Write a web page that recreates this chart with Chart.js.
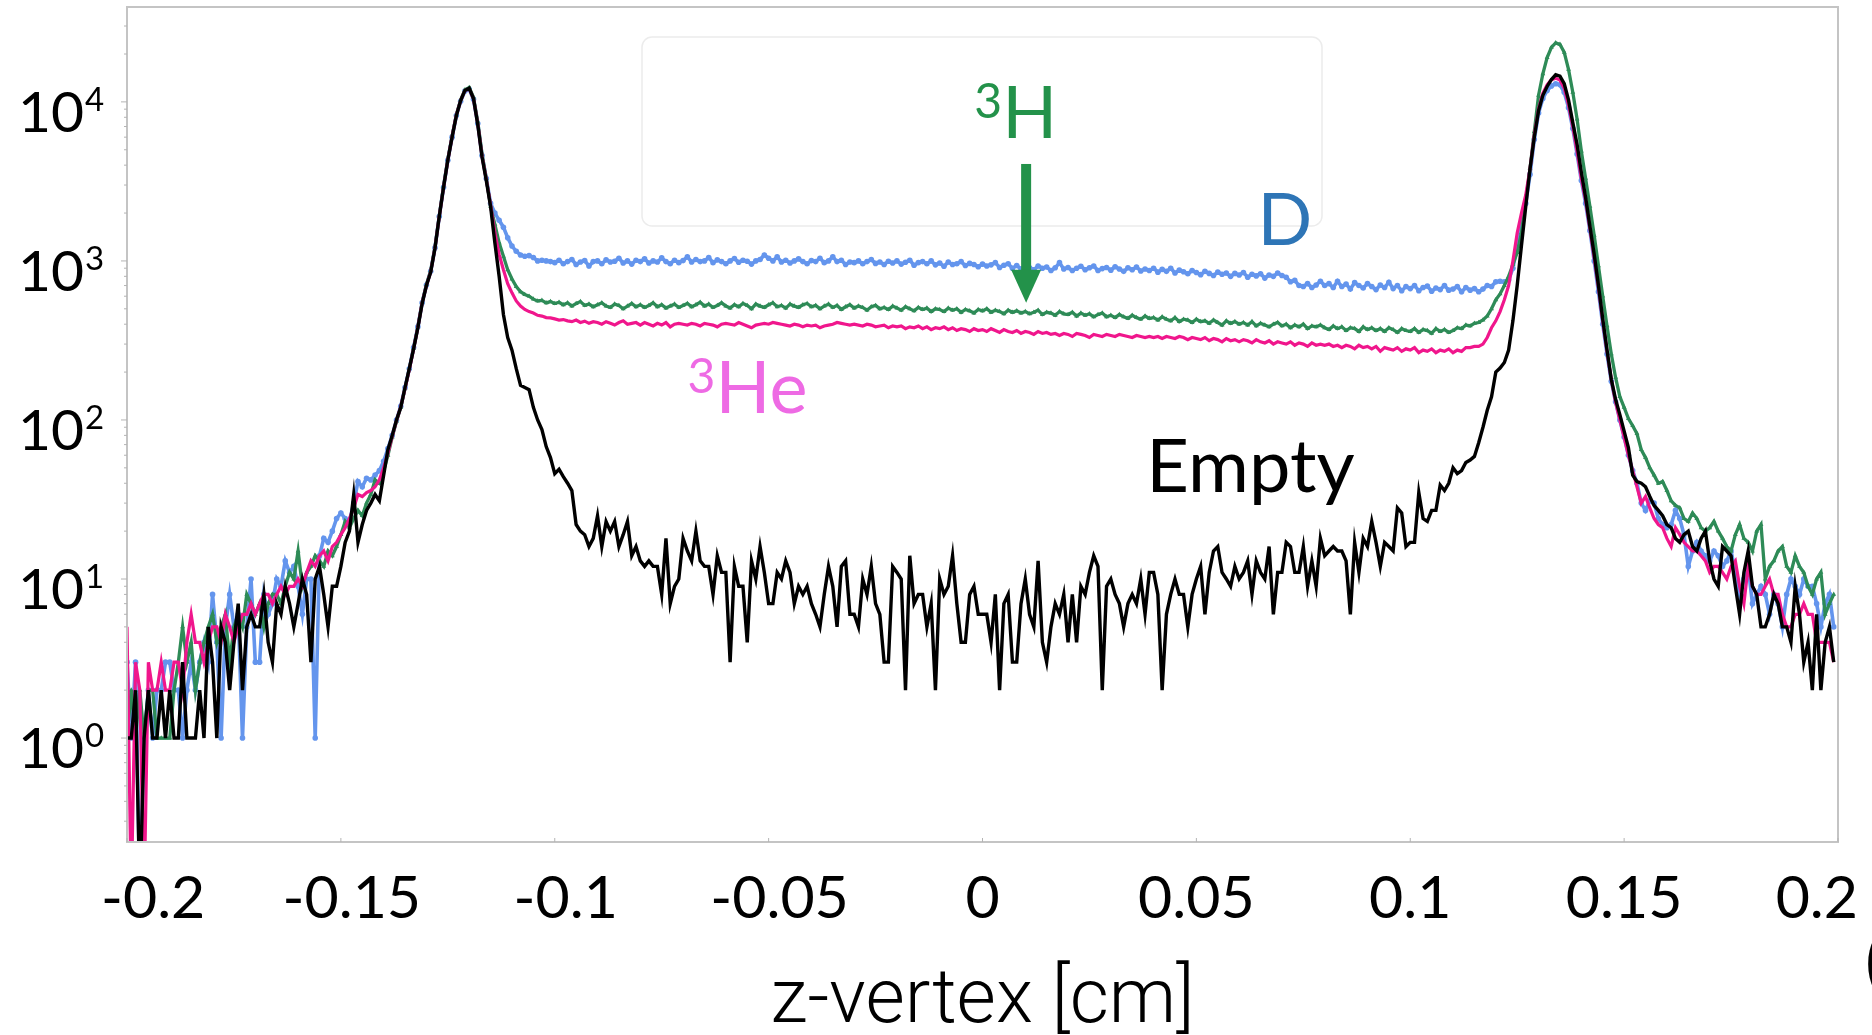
<!DOCTYPE html>
<html>
<head>
<meta charset="utf-8">
<title>z-vertex</title>
<script src="https://cdn.jsdelivr.net/npm/chart.js@4.4.0/dist/chart.umd.min.js"></script>
<style>
  body { margin: 0; background: #fff; }
  canvas { display: block; }
</style>
</head>
<body>
<canvas id="zChart" width="1872" height="1035"></canvas>
<script>
// histogram bins: 1 mm steps from -0.2 cm
const zStart = -0.2;
const zStep = 0.001;

const seriesNames = ['Empty', '³He', '³H', 'D'];

// counts per bin (0 = empty bin)
const emptyCounts = [
  1, 1, 2, 0, 1, 2, 1, 1, 2, 1,
  2, 1, 1, 3, 1, 1, 1, 2, 1, 5,
  3, 1, 5, 4, 2, 4, 7, 2, 5, 6,
  5, 5, 8, 4, 3, 7, 6, 9, 7, 5,
  7, 10, 8, 3, 10, 12, 8, 5, 9, 9,
  12, 17, 20, 34, 17, 22, 27, 30, 34, 31,
  45, 65, 80, 100, 120, 160, 210, 280, 380, 540,
  700, 850, 1200, 1900, 2900, 4300, 6000, 8200, 10200, 11800,
  12200, 10500, 7200, 4500, 3200, 2200, 1300, 800, 460, 330,
  275, 210, 165, 160, 155, 120, 100, 87, 68, 58,
  46, 49, 44, 40, 36, 22, 20, 19, 16, 18,
  25, 16, 23, 20, 23, 16, 19, 23, 14, 16,
  13, 12, 13, 12, 12, 8, 18, 7, 9, 10,
  18, 15, 13, 20, 13, 12, 12, 8, 14, 11,
  11, 3, 12, 9, 9, 4, 13, 10, 16, 11,
  7, 7, 11, 10, 13, 11, 7, 9, 8, 9,
  7, 6, 5, 8, 12, 9, 5, 12, 13, 6,
  6, 5, 10, 8, 12, 7, 6, 3, 3, 12,
  11, 10, 2, 14, 7, 8, 8, 5, 7, 2,
  10, 8, 9, 14, 7, 4, 4, 8, 9, 6,
  6, 6, 4, 8, 2, 7, 8, 3, 3, 7,
  10, 6, 5, 13, 4, 3, 5, 7, 6, 8,
  4, 8, 4, 9, 8, 11, 14, 12, 2, 9,
  10, 8, 7, 5, 7, 8, 7, 10, 6, 11,
  11, 8, 2, 6, 8, 10, 8, 8, 5, 8,
  10, 12, 6, 11, 15, 16, 11, 10, 9, 12,
  10, 11, 13, 8, 13, 11, 10, 16, 6, 11,
  11, 17, 16, 11, 11, 16, 9, 13, 9, 18,
  14, 15, 16, 15, 15, 13, 6, 17, 11, 18,
  16, 23, 17, 12, 17, 16, 15, 28, 26, 16,
  17, 17, 35, 24, 23, 27, 27, 39, 36, 40,
  50, 46, 48, 54, 56, 59, 72, 90, 115, 140,
  200, 212, 230, 275, 420, 700, 1250, 2200, 3800, 6000,
  8800, 11000, 12500, 13800, 14800, 14500, 13000, 10300, 7400, 5400,
  3600, 2500, 1650, 1100, 700, 430, 275, 180, 135, 108,
  85, 67, 45, 41, 40, 38, 33, 29, 27, 25,
  22, 21, 18, 17, 19, 20, 16, 15, 18, 20,
  13, 10, 9, 16, 15, 14, 9, 6, 11, 15,
  9, 8, 5, 5, 6, 8, 7, 5, 5, 4,
  9, 6, 3, 4, 2, 6, 2, 4, 5, 3
];

const helium3Counts = [
  5, 0, 3, 2, 0, 3, 2, 2, 3, 2,
  2, 3, 3, 2, 4, 6, 4, 4, 3, 4,
  5, 5, 4, 6, 5, 4, 5, 6, 6, 7,
  6, 7, 8, 8, 7, 8, 9, 8, 9, 9,
  10, 9, 11, 13, 12, 14, 15, 13, 16, 17,
  19, 21, 24, 28, 34, 33, 35, 36, 38, 42,
  50, 62, 79, 99, 121, 158, 208, 280, 382, 545,
  700, 855, 1205, 1900, 2900, 4300, 6050, 8250, 10200, 11800,
  12100, 10500, 7300, 4550, 3250, 2250, 1500, 1100, 880, 720,
  630, 560, 520, 495, 480, 470, 455, 450, 440, 438,
  432, 425, 428, 420, 415, 425, 410, 418, 405, 415,
  410, 400, 415, 405, 395, 410, 420, 400, 405, 410,
  395, 410, 400, 390, 405, 395, 410, 385, 400, 405,
  400, 395, 405, 400, 390, 405, 400, 395, 385, 400,
  405, 400, 395, 410, 400, 390, 380, 395, 400, 405,
  400, 410, 405, 400, 395, 390, 400, 395, 385, 395,
  390, 395, 380, 390, 395, 400, 410, 405, 400, 395,
  400, 395, 390, 400, 395, 385, 390, 395, 380, 390,
  385, 390, 375, 385, 380, 390, 375, 385, 370, 380,
  375, 385, 370, 380, 365, 375, 370, 360, 375, 365,
  370, 360, 375, 365, 355, 370, 360, 355, 365, 350,
  360, 355, 345, 360, 350, 355, 345, 350, 340, 350,
  345, 335, 350, 345, 340, 330, 345, 340, 335, 345,
  340, 335, 345, 340, 335, 330, 340, 335, 330, 335,
  330, 335, 325, 335, 330, 325, 335, 330, 320, 330,
  325, 320, 330, 315, 325, 320, 310, 325, 315, 320,
  310, 320, 315, 305, 320, 310, 305, 315, 300, 310,
  305, 300, 310, 295, 305, 300, 290, 305, 295, 300,
  295, 300, 290, 295, 285, 295, 290, 280, 295, 285,
  290, 280, 290, 270, 285, 280, 275, 285, 270, 280,
  275, 285, 265, 275, 270, 280, 265, 275, 270, 280,
  265, 275, 270, 285, 285, 290, 290, 300, 330, 380,
  420, 480, 570, 700, 1000, 1500, 2000, 2600, 3800, 6200,
  9000, 11300, 12800, 13800, 14100, 13700, 12200, 9600, 7000, 4900,
  3300, 2400, 1600, 1050, 680, 420, 270, 180, 130, 100,
  78, 60, 48, 38, 30, 33, 28, 24, 22, 21,
  18, 16, 21, 19, 17, 16, 15, 15, 14, 13,
  11, 12, 12, 11, 10, 12, 13, 9, 7, 12,
  9, 8, 8, 9, 10, 8, 8, 6, 5, 5,
  6, 6, 7, 6, 6, 4, 4, 4, 4, 3
];

const tritiumCounts = [
  1, 2, 1, 2, 1, 2, 2, 1, 1, 1,
  1, 2, 3, 5, 3, 4, 2, 3, 4, 5,
  6, 4, 5, 6, 3, 5, 6, 5, 8, 7,
  6, 7, 5, 7, 8, 8, 7, 9, 11, 10,
  15, 9, 11, 12, 14, 13, 12, 15, 14, 16,
  19, 23, 21, 24, 27, 25, 30, 34, 42, 40,
  48, 60, 78, 98, 120, 158, 210, 282, 385, 550,
  710, 870, 1220, 1920, 2950, 4350, 6100, 8300, 10300, 11900,
  12300, 10700, 7500, 4700, 3300, 2200, 1700, 1300, 1070, 880,
  770, 690, 640, 615, 600, 575, 560, 565, 545, 555,
  540, 550, 530, 545, 520, 540, 555, 525, 535, 515,
  530, 545, 520, 510, 535, 525, 500, 520, 540, 515,
  530, 510, 525, 545, 515, 530, 505, 520, 535, 510,
  525, 540, 515, 530, 550, 520, 535, 510, 525, 545,
  520, 505, 530, 515, 540, 525, 500, 535, 520, 510,
  530, 545, 515, 525, 505, 535, 520, 510, 530, 540,
  515, 525, 500, 520, 535, 510, 525, 495, 515, 530,
  505, 520, 510, 490, 515, 525, 500, 510, 495, 520,
  505, 490, 515, 500, 485, 510, 495, 505, 480, 500,
  495, 480, 505, 490, 500, 475, 495, 485, 470, 495,
  485, 500, 475, 490, 480, 465, 490, 475, 485, 470,
  480, 465, 475, 490, 460, 475, 470, 455, 480, 465,
  460, 475, 450, 470, 455, 465, 445, 460, 470, 445,
  455, 440, 460, 445, 435, 455, 440, 430, 450, 435,
  440, 425, 445, 430, 420, 440, 415, 430, 425, 410,
  430, 415, 420, 405, 425, 410, 395, 420, 405, 415,
  400, 410, 395, 415, 390, 405, 395, 385, 400, 410,
  390, 400, 380, 395, 385, 400, 375, 390, 385, 395,
  380, 370, 390, 375, 385, 365, 380, 375, 360, 385,
  370, 380, 365, 375, 360, 380, 370, 355, 375, 365,
  360, 375, 355, 370, 365, 350, 375, 360, 370, 355,
  365, 380, 375, 395, 390, 405, 410, 425, 450, 500,
  570, 620, 700, 800, 950, 1130, 1500, 2400, 3800, 6500,
  11000, 15000, 19000, 22000, 23500, 23000, 20500, 16000, 11500, 7800,
  4900, 3300, 2200, 1450, 930, 600, 390, 260, 185, 140,
  120, 102, 92, 82, 65, 58, 50, 45, 40, 41,
  36, 31, 29, 28, 24, 23, 26, 24, 21, 20,
  21, 23, 20, 18, 16, 15, 19, 22, 18, 17,
  15, 20, 22, 10, 12, 13, 15, 16, 12, 11,
  14, 12, 11, 9, 8, 10, 11, 6, 7, 8
];

const deuteriumCounts = [
  3, 1, 3, 0, 1, 2, 1, 2, 2, 3,
  3, 2, 2, 1, 2, 3, 2, 3, 4, 3,
  8, 4, 1, 5, 8, 5, 6, 1, 5, 10,
  3, 3, 8, 6, 7, 10, 9, 13, 11, 12,
  9, 6, 10, 10, 1, 14, 18, 17, 20, 24,
  26, 24, 23, 30, 41, 38, 43, 42, 45, 48,
  55, 66, 80, 100, 122, 160, 210, 285, 385, 545,
  705, 860, 1210, 1900, 2900, 4300, 6000, 8200, 10100, 11700,
  12000, 10400, 7300, 4600, 3300, 2300, 2000, 1800, 1630, 1400,
  1240, 1150, 1090, 1070, 1080, 1050, 1000, 1010, 1000, 990,
  975, 1010, 960, 990, 1020, 950, 985, 1005, 930, 990,
  1000, 960, 1015, 985, 995, 1040, 970, 1000, 955, 1010,
  990, 1030, 970, 1000, 985, 1045, 990, 960, 1010, 975,
  1005, 1060, 985, 1020, 990, 1000, 1050, 975, 1015, 990,
  960, 1000, 1035, 980, 1010, 995, 955, 1000, 1020, 1090,
  1040, 1000, 1060, 985, 1010, 970, 1000, 1030, 990, 960,
  1005, 990, 1040, 975, 1000, 1060, 990, 1010, 950, 985,
  975, 1000, 960, 990, 1020, 965, 985, 950, 995, 970,
  1000, 955, 980, 1010, 940, 975, 990, 960, 1000, 945,
  970, 925, 985, 950, 960, 990, 935, 965, 950, 920,
  955, 930, 945, 975, 910, 940, 960, 900, 935, 890,
  920, 905, 880, 930, 900, 915, 870, 905, 975, 890,
  910, 870, 900, 925, 880, 905, 930, 870, 895, 910,
  875, 920, 890, 860, 905, 880, 915, 865, 890, 870,
  900, 850, 885, 860, 900, 840, 875, 855, 830, 870,
  845, 820, 860, 835, 810, 850, 825, 840, 800, 835,
  815, 845, 790, 825, 805, 830, 780, 815, 800, 840,
  810, 790, 740, 755, 700, 690, 720, 680, 705, 745,
  700, 720, 680, 745, 690, 715, 665, 730, 700, 675,
  720, 690, 660, 705, 680, 735, 670, 700, 650, 690,
  670, 700, 650, 680, 695, 645, 675, 660, 700, 655,
  665, 690, 640, 680, 655, 670, 640, 665, 700, 690,
  740, 745, 740, 760, 900, 1250, 1650, 2300, 3500, 5800,
  8500, 10500, 11800, 12600, 13000, 12800, 11500, 9200, 6800, 4700,
  3200, 2300, 1550, 1000, 640, 400, 260, 175, 130, 100,
  78, 60, 48, 40, 30, 27, 31, 30, 24, 22,
  21, 22, 27, 24, 19, 12, 15, 17, 15, 14,
  13, 15, 14, 12, 13, 15, 11, 8, 10, 12,
  7, 8, 9, 8, 6, 8, 7, 5, 8, 10,
  9, 8, 10, 9, 9, 7, 5, 7, 8, 5
];

const xTickValues = [-0.2, -0.15, -0.1, -0.05, 0, 0.05, 0.1, 0.15, 0.2];
const xTickLabels = ['-0.2', '-0.15', '-0.1', '-0.05', '0', '0.05', '0.1', '0.15', '0.2'];
const yTickPowers = [0, 1, 2, 3, 4];

// in-plot labels, anchored in data coordinates
const notes = [
  { text: 'H', sup: '3', z: 0.0046, v: 5940, color: '#23924a' },
  { text: 'D', z: 0.0643, v: 1262, color: '#2e75b6' },
  { text: 'He', sup: '3', z: -0.0624, v: 110.7, color: '#ee6ae4' },
  { text: 'Empty', z: 0.0383, v: 35.3, color: '#000000', size: 74 }
];
const arrow = { z: 0.0102, from: 4070, to: 545, color: '#23924a' };

const yMin = 0.222;
const yMax = 39500;
const yFloor = 0.1; // empty bins are drawn off the bottom edge

const zBins = Array.from({ length: emptyCounts.length }, (_, i) => +(zStart + i * zStep).toFixed(3));

function toPoints(counts) {
  return counts.map((c, i) => ({ x: zBins[i], y: c > 0 ? c : yFloor }));
}

const decorations = {
  id: 'decorations',
  beforeDatasetsDraw(chart) {
    const ctx = chart.ctx;
    // faint empty legend frame
    ctx.save();
    ctx.strokeStyle = '#ececec';
    ctx.lineWidth = 1.5;
    ctx.beginPath();
    ctx.roundRect(642, 37, 680, 189, 10);
    ctx.stroke();
    ctx.restore();
  },
  afterDatasetsDraw(chart) {
    const { ctx, chartArea: a, scales: { x, y } } = chart;
    ctx.save();

    // plot frame
    ctx.strokeStyle = '#c4c4c4';
    ctx.lineWidth = 2;
    ctx.strokeRect(a.left, a.top, a.right - a.left, a.bottom - a.top);

    // small tick marks
    ctx.lineWidth = 1;
    ctx.strokeStyle = '#b4b4b4';
    xTickValues.forEach(v => {
      const px = x.getPixelForValue(v);
      ctx.beginPath();
      ctx.moveTo(px, a.bottom);
      ctx.lineTo(px, a.bottom - 4);
      ctx.stroke();
    });
    for (let p = -1; p <= 4; p++) {
      for (let m = 1; m <= 9; m++) {
        const v = m * Math.pow(10, p);
        if (v < yMin || v > yMax) continue;
        const py = y.getPixelForValue(v);
        ctx.beginPath();
        ctx.moveTo(a.left - (m === 1 ? 6 : 3), py);
        ctx.lineTo(a.left, py);
        ctx.stroke();
      }
    }

    // x tick labels
    ctx.fillStyle = '#000';
    ctx.textBaseline = 'alphabetic';
    ctx.font = '59px Lato';
    ctx.textAlign = 'center';
    const minusHalf = ctx.measureText('-').width / 2;
    xTickValues.forEach((v, k) => {
      const label = xTickLabels[k];
      const w = ctx.measureText(label).width;
      let cx = x.getPixelForValue(v) + (v < 0 ? minusHalf : 0);
      cx = Math.max(cx, 101 + w / 2);
      cx = Math.min(cx, chart.width - 14 - w / 2);
      ctx.fillText(label, cx, a.bottom + 76);
    });

    // y tick labels 10^n
    yTickPowers.forEach(p => {
      const py = y.getPixelForValue(Math.pow(10, p));
      ctx.font = '57px Lato';
      ctx.textAlign = 'right';
      ctx.fillText('10', 84, py + 30);
      ctx.font = '33px Lato';
      ctx.textAlign = 'left';
      ctx.fillText(String(p), 85, py + 9);
    });

    // arrow pointing at the 3H curve
    const ax = x.getPixelForValue(arrow.z);
    const aTop = y.getPixelForValue(arrow.from);
    const aTip = y.getPixelForValue(arrow.to);
    ctx.fillStyle = arrow.color;
    ctx.fillRect(ax - 5, aTop, 10, aTip - 32 - aTop);
    ctx.beginPath();
    ctx.moveTo(ax - 15, aTip - 33);
    ctx.lineTo(ax + 15, aTip - 33);
    ctx.lineTo(ax, aTip);
    ctx.closePath();
    ctx.fill();

    // curve labels
    notes.forEach(n => {
      const nx = x.getPixelForValue(n.z);
      const ny = y.getPixelForValue(n.v);
      ctx.fillStyle = n.color;
      ctx.textAlign = 'left';
      ctx.font = (n.size || 72) + 'px Lato';
      ctx.fillText(n.text, nx, ny);
      if (n.sup) {
        ctx.font = '48px Lato';
        ctx.fillText(n.sup, nx - 28, ny - 20);
      }
    });

    // clipped glyph at the right edge
    ctx.fillStyle = '#000';
    ctx.font = '300 75px Roboto';
    ctx.fillText('(', 1863, 985);

    ctx.restore();
  }
};

const ctx = document.getElementById('zChart').getContext('2d');
new Chart(ctx, {
  type: 'line',
  data: {
    datasets: [
      {
        label: seriesNames[0],
        data: toPoints(emptyCounts),
        borderColor: '#000000',
        borderWidth: 3.4,
        pointRadius: 0
      },
      {
        label: seriesNames[1],
        data: toPoints(helium3Counts),
        borderColor: '#f0168c',
        borderWidth: 3.2,
        pointRadius: 0
      },
      {
        label: seriesNames[2],
        data: toPoints(tritiumCounts),
        borderColor: '#2e8b57',
        backgroundColor: '#2e8b57',
        borderWidth: 3.3,
        pointStyle: 'triangle',
        pointRadius: 2.8,
        pointBorderWidth: 0
      },
      {
        label: seriesNames[3],
        data: toPoints(deuteriumCounts),
        borderColor: '#6495ed',
        backgroundColor: '#6495ed',
        borderWidth: 3.6,
        pointRadius: 2.8,
        pointBorderWidth: 0
      }
    ]
  },
  options: {
    responsive: false,
    animation: false,
    layout: { padding: { left: 0, right: 34, top: 7, bottom: 0 } },
    elements: { line: { tension: 0 } },
    plugins: {
      legend: { display: false },
      tooltip: { enabled: false }
    },
    scales: {
      x: {
        type: 'linear',
        min: -0.2,
        max: 0.2,
        grid: { display: false },
        border: { display: false },
        ticks: { display: false },
        afterFit: s => { s.height = 193; },
        title: {
          display: true,
          text: 'z-vertex [cm]',
          color: '#000',
          font: { family: 'Roboto', weight: 300, size: 76, lineHeight: 1.2 },
          padding: { top: 0, bottom: -14 }
        }
      },
      y: {
        type: 'logarithmic',
        min: yMin,
        max: yMax,
        grid: { display: false },
        border: { display: false },
        ticks: { display: false },
        afterFit: s => { s.width = 127; }
      }
    }
  },
  plugins: [decorations]
});
</script>
</body>
</html>
